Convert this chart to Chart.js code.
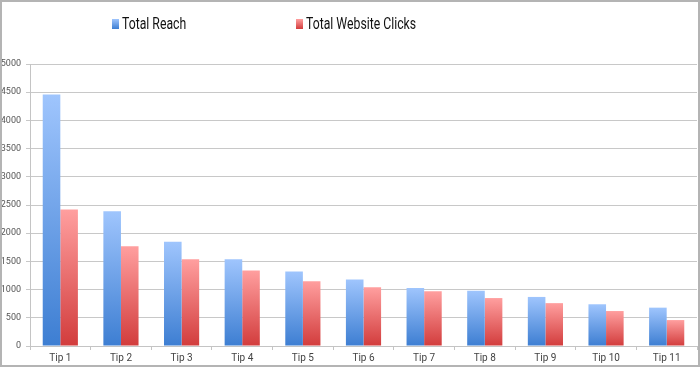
<!DOCTYPE html>
<html>
<head>
<meta charset="utf-8">
<script src="https://cdn.jsdelivr.net/npm/chart.js@4"></script>
<style>
  html, body { margin: 0; padding: 0; background: #fff; }
  #wrap { width: 700px; height: 367px; box-sizing: border-box; border: 2px solid #b4b4b4; position: relative; }
</style>
</head>
<body>
<div id="wrap"><canvas id="chart"></canvas></div>
<script>
const tips = ["Tip 1", "Tip 2", "Tip 3", "Tip 4", "Tip 5", "Tip 6", "Tip 7", "Tip 8", "Tip 9", "Tip 10", "Tip 11"];
const totalReach = [4460, 2390, 1850, 1540, 1320, 1180, 1030, 980, 870, 740, 680];
const totalClicks = [2420, 1770, 1540, 1340, 1150, 1040, 970, 850, 760, 620, 460];
const seriesNames = ["Total Reach", "Total Website Clicks"];

const BLUE = ["#9fc5fd", "#3d7ed2"];
const RED = ["#ff9f9f", "#d23c3c"];

// vertical gradient per bar: light at the top, dark at the base
function barGradient(cols) {
  return (ctx) => {
    const chart = ctx.chart;
    const y = chart.scales && chart.scales.y;
    if (!y || ctx.raw == null) return cols[1];
    const top = y.getPixelForValue(ctx.raw);
    const base = y.getPixelForValue(0);
    if (!isFinite(top) || !isFinite(base) || top === base) return cols[1];
    const g = chart.ctx.createLinearGradient(0, top, 0, base);
    g.addColorStop(0, cols[0]);
    g.addColorStop(1, cols[1]);
    return g;
  };
}

// legend drawn at the top, squeezed text like the original
const topLegend = {
  id: "topLegend",
  afterDraw(chart) {
    const c = chart.ctx;
    const items = [
      { x: 110, cols: BLUE, text: seriesNames[0] },
      { x: 294, cols: RED, text: seriesNames[1] },
    ];
    c.save();
    c.font = "17px Roboto";
    c.textBaseline = "middle";
    items.forEach((it) => {
      const g = c.createLinearGradient(0, 17, 0, 27);
      g.addColorStop(0, it.cols[0]);
      g.addColorStop(1, it.cols[1]);
      c.fillStyle = g;
      c.fillRect(it.x, 17, 7, 10);
      c.save();
      c.translate(it.x + 10, 0);
      c.scale(0.72, 1);
      c.fillStyle = "#111";
      c.fillText(it.text, 0, 22.5);
      c.restore();
    });
    c.restore();
  },
};

new Chart(document.getElementById("chart"), {
  type: "bar",
  data: {
    labels: tips,
    datasets: [
      { label: seriesNames[0], data: totalReach, backgroundColor: barGradient(BLUE) },
      { label: seriesNames[1], data: totalClicks, backgroundColor: barGradient(RED) },
    ],
  },
  options: {
    responsive: true,
    maintainAspectRatio: false,
    animation: false,
    categoryPercentage: 0.58,
    barPercentage: 1,
    layout: { padding: { top: 62, right: 1, left: 0, bottom: 0 } },
    plugins: { legend: { display: false }, tooltip: { enabled: false } },
    scales: {
      x: {
        grid: { offset: true, drawOnChartArea: false, tickLength: 4, color: "#c4c4c4" },
        border: { color: "#c4c4c4" },
        ticks: { color: "#444", font: { family: "Roboto", size: 10 }, padding: 2 },
        afterFit: (s) => { s.height = 19; },
      },
      y: {
        min: 0,
        max: 5000,
        ticks: {
          stepSize: 500,
          color: "#555",
          font: { family: "Roboto", size: 9 },
          padding: 5,
          callback: (v) => String(v),
        },
        grid: { color: "#c8c8c8", tickLength: 4 },
        border: { color: "#c4c4c4" },
        afterFit: (s) => { s.width = 28; },
      },
    },
  },
  plugins: [topLegend],
});
</script>
</body>
</html>
